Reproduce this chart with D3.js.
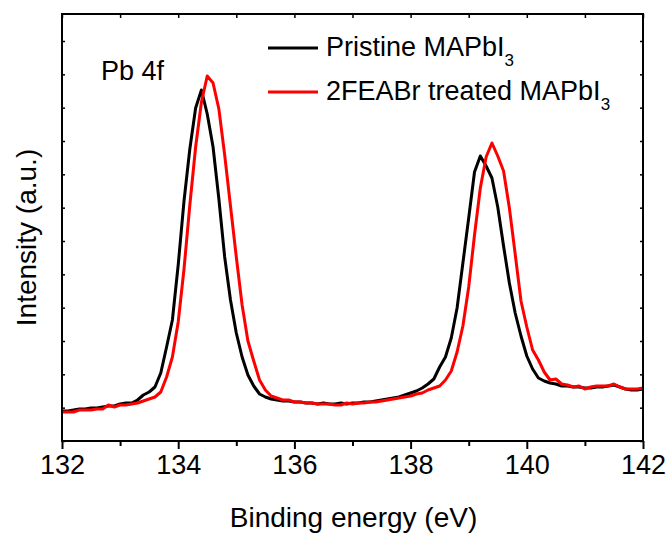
<!DOCTYPE html>
<html>
<head>
<meta charset="utf-8">
<script src="https://cdn.jsdelivr.net/npm/d3@7"></script>
<style>
  body { margin: 0; background: #fff; }
  text { font-family: "Liberation Sans", Arial, sans-serif; fill: #000; }
</style>
</head>
<body>
<div id="chart"></div>
<script>
// binding energy grid, 132 -> 142 eV in 0.1 eV steps
const energy = d3.range(0, 101).map(k => +(132 + k * 0.1).toFixed(1));

// counts
const pristine = [
  900, 900, 930, 960, 960, 990, 990, 1020, 1050, 1050,
  1110, 1140, 1140, 1230, 1380, 1470, 1620, 2040, 2820, 3630,
  5280, 7200, 8760, 9990, 10530, 9810, 8820, 7260, 5520, 4230,
  3240, 2520, 1980, 1650, 1410, 1320, 1260, 1230, 1200, 1200,
  1170, 1170, 1140, 1140, 1110, 1140, 1110, 1110, 1140, 1110,
  1140, 1140, 1170, 1170, 1200, 1230, 1260, 1290, 1320, 1380,
  1440, 1500, 1590, 1710, 1860, 2220, 2520, 3090, 3990, 5340,
  6690, 8070, 8550, 8250, 7890, 7020, 5850, 4740, 3840, 3150,
  2550, 2160, 1890, 1800, 1740, 1710, 1650, 1650, 1620, 1620,
  1590, 1590, 1620, 1620, 1650, 1680, 1620, 1560, 1530, 1530,
  1560
];
const treated = [
  870, 870, 870, 930, 930, 930, 960, 960, 1080, 1020,
  1080, 1080, 1110, 1140, 1200, 1260, 1320, 1470, 1920, 2520,
  3570, 5160, 7080, 8820, 10170, 10950, 10740, 9960, 8580, 7050,
  5520, 4080, 3000, 2400, 1830, 1530, 1350, 1290, 1230, 1230,
  1170, 1170, 1140, 1140, 1110, 1110, 1110, 1080, 1080, 1140,
  1110, 1140, 1140, 1170, 1170, 1200, 1230, 1260, 1290, 1320,
  1350, 1410, 1440, 1530, 1590, 1650, 1830, 2100, 2670, 3450,
  4620, 6180, 7590, 8520, 8940, 8550, 8100, 6990, 5610, 4200,
  3420, 2730, 2430, 2070, 1830, 1860, 1710, 1680, 1620, 1650,
  1560, 1620, 1650, 1650, 1650, 1710, 1620, 1560, 1560, 1560,
  1590
];

const seriesNames = ['Pristine MAPbI', '2FEABr treated MAPbI'];
const seriesColors = ['#000000', '#ff0000'];
const xTicksMajor = [132, 134, 136, 138, 140, 142];
const xTicksAll = d3.range(132, 143);
const yTicks = d3.range(0, 13000, 1000);

const width = 671, height = 536;
const margin = { top: 14, right: 28, bottom: 95, left: 62 };

const svg = d3.select('#chart').append('svg')
  .attr('width', width)
  .attr('height', height);

const x = d3.scaleLinear().domain([132, 142]).range([margin.left, width - margin.right]);
const y = d3.scaleLinear().domain([0, 12810]).range([height - margin.bottom, margin.top]);

const bottomY = height - margin.bottom;
const rightX = width - margin.right;

// curves
const line = d3.line()
  .x(d => x(d[0]))
  .y(d => y(d[1]));

[pristine, treated].forEach((vals, i) => {
  svg.append('path')
    .datum(energy.map((e, j) => [e, vals[j]]))
    .attr('fill', 'none')
    .attr('stroke', seriesColors[i])
    .attr('stroke-width', 3)
    .attr('stroke-linejoin', 'round')
    .attr('d', line);
});

// bottom axis: major + minor ticks outward
svg.append('g').attr('transform', `translate(0,${bottomY})`)
  .call(d3.axisBottom(x).tickValues(xTicksAll.filter(v => v % 2 === 1)).tickSize(5).tickFormat(''))
  .call(g => g.select('.domain').remove())
  .selectAll('line').attr('stroke-width', 2);

svg.append('g').attr('transform', `translate(0,${bottomY})`)
  .call(d3.axisBottom(x).tickValues(xTicksMajor).tickSize(8).tickPadding(6).tickFormat(d3.format('d')))
  .call(g => g.select('.domain').remove())
  .call(g => g.selectAll('line').attr('stroke-width', 2))
  .call(g => g.selectAll('text').style('font-size', '27px').attr('fill', '#000'));

// top axis, inward ticks
svg.append('g').attr('transform', `translate(0,${margin.top})`)
  .call(d3.axisBottom(x).tickValues(xTicksAll).tickSize(4).tickFormat(''))
  .call(g => g.select('.domain').remove())
  .selectAll('line').attr('stroke-width', 1.5);

// left / right axes, inward ticks, no labels
svg.append('g').attr('transform', `translate(${margin.left},0)`)
  .call(d3.axisRight(y).tickValues(yTicks).tickSize(3).tickFormat(''))
  .call(g => g.select('.domain').remove())
  .selectAll('line').attr('stroke-width', 1.5);

svg.append('g').attr('transform', `translate(${rightX},0)`)
  .call(d3.axisLeft(y).tickValues(yTicks).tickSize(3).tickFormat(''))
  .call(g => g.select('.domain').remove())
  .selectAll('line').attr('stroke-width', 1.5);

// frame
svg.append('rect')
  .attr('x', margin.left).attr('y', margin.top)
  .attr('width', rightX - margin.left).attr('height', bottomY - margin.top)
  .attr('fill', 'none').attr('stroke', '#000').attr('stroke-width', 2);

// axis titles
svg.append('text')
  .attr('x', (margin.left + rightX) / 2 + 1).attr('y', 527)
  .attr('text-anchor', 'middle').style('font-size', '28px')
  .text('Binding energy (eV)');

svg.append('text')
  .attr('transform', `translate(36,${(margin.top + bottomY) / 2 + 10}) rotate(-90)`)
  .attr('text-anchor', 'middle').style('font-size', '28px')
  .text('Intensity (a.u.)');

// label
svg.append('text')
  .attr('x', 101).attr('y', 80)
  .style('font-size', '27px')
  .text('Pb 4f');

// legend
const legendY = [48, 92];
seriesNames.forEach((name, i) => {
  svg.append('line')
    .attr('x1', 268).attr('x2', 318)
    .attr('y1', legendY[i]).attr('y2', legendY[i])
    .attr('stroke', seriesColors[i]).attr('stroke-width', 3);
  const t = svg.append('text')
    .attr('x', 326).attr('y', legendY[i] + 8)
    .style('font-size', '27px');
  t.append('tspan').text(name);
  t.append('tspan').attr('dy', 10).style('font-size', '17px').text('3');
});
</script>
</body>
</html>
